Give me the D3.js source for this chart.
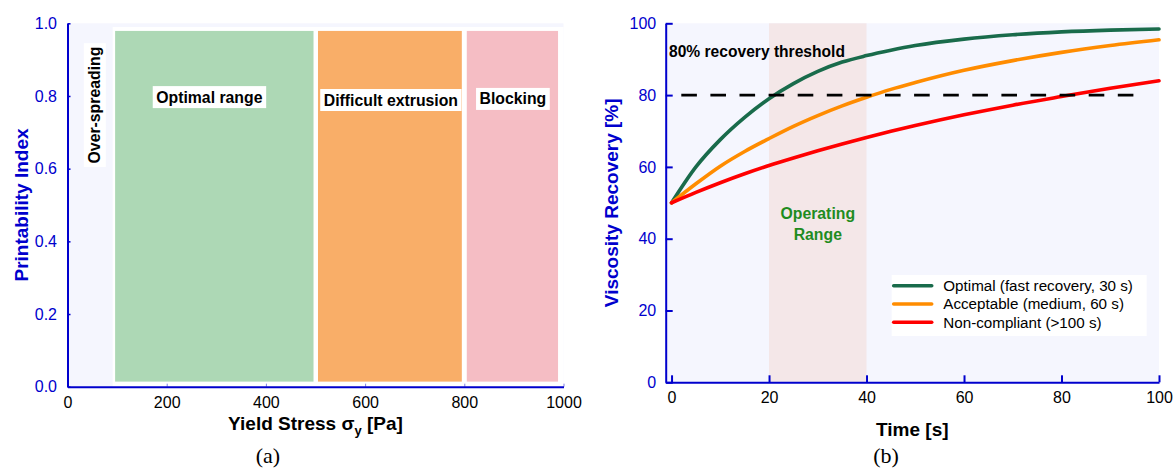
<!DOCTYPE html>
<html>
<head>
<meta charset="utf-8">
<script src="https://cdn.jsdelivr.net/npm/d3@7"></script>
<style>
body { margin: 0; background: #fff; }
text { font-family: "Liberation Sans", Arial, sans-serif; }
</style>
</head>
<body>
<div id="chart"></div>
<script>
// ---- panel (a): printability windows ----
var regionNames = ["Optimal range", "Difficult extrusion", "Blocking"];
var regionStart = [96, 505, 805];
var regionEnd = [496, 795, 989];
var regionTop = 0.979;
var regionBottom = 0.014;
var regionLabelX = [286, 652, 898];
var regionLabelY = [0.797, 0.789, 0.792];
var overLabel = "Over-spreading";
var overLabelX = 55;
var overLabelY = 0.775;
var frameStart = 91;      // white backing panel behind the windows
var frameTop = 0.99;
var stressTicks = [0, 200, 400, 600, 800, 1000];
var indexTicks = [0, 0.2, 0.4, 0.6, 0.8, 1.0];

// ---- panel (b): viscosity recovery ----
var time = [0, 5, 10, 15, 20, 25, 30, 35, 40, 45, 50, 60, 70, 80, 90, 100];
var optimal = [50, 60.0, 67.6, 73.8, 79.0, 83.2, 86.6, 89.2, 91.0, 92.5, 93.8, 95.6, 96.8, 97.6, 98.1, 98.4];
var acceptable = [50, 55.3, 60.2, 64.3, 67.9, 71.3, 74.3, 77.0, 79.4, 81.6, 83.5, 86.9, 89.6, 91.9, 93.8, 95.4];
var nonCompliant = [50, 52.9, 55.6, 58.1, 60.4, 62.5, 64.5, 66.4, 68.2, 69.9, 71.5, 74.5, 77.2, 79.6, 81.9, 84.0];
var seriesNames = ["Optimal (fast recovery, 30 s)", "Acceptable (medium, 60 s)", "Non-compliant (>100 s)"];
var threshold = 80;
var thresholdStart = 2;
var thresholdEnd = 95;
var thresholdLabel = "80% recovery threshold";
var operatingRange = [20, 40];
var timeTicks = [0, 20, 40, 60, 80, 100];
var recoveryTicks = [0, 20, 40, 60, 80, 100];

var blue = "#0000cd";
var lavender = "#f5f6fe";
var regionColors = ["#add8b5", "#f9ae68", "#f5bdc4"];
var lineColors = ["#196b4b", "#ff8c00", "#ff0000"];

var svg = d3.select("#chart").append("svg")
    .attr("width", 1173)
    .attr("height", 468);

// draws white box behind a text node
function boxBehind(g, textSel, padX, padY) {
    var b = textSel.node().getBBox();
    g.insert("rect", "text")
        .attr("x", b.x - padX).attr("y", b.y - padY)
        .attr("width", b.width + 2 * padX).attr("height", b.height + 2 * padY)
        .attr("fill", "#fff");
}

function styleAxis(g, labelColor) {
    g.select(".domain").attr("stroke", blue).attr("stroke-width", 2);
    g.selectAll(".tick line").attr("stroke", blue).attr("stroke-width", 1.5);
    g.selectAll(".tick text").attr("fill", labelColor).attr("font-size", 16)
        .attr("font-family", "Liberation Sans, Arial, sans-serif");
}

// ================= Panel (a) =================
var xa = d3.scaleLinear().domain([0, 1000]).range([67.5, 563.5]);
var ya = d3.scaleLinear().domain([0, 1]).range([386.7, 23.3]);
var ga = svg.append("g");

ga.append("rect")
    .attr("x", xa(0)).attr("y", ya(1))
    .attr("width", xa(1000) - xa(0)).attr("height", ya(0) - ya(1))
    .attr("fill", lavender);

ga.append("rect")
    .attr("x", xa(frameStart)).attr("y", ya(frameTop))
    .attr("width", xa(1000) - xa(frameStart)).attr("height", ya(0) - ya(frameTop))
    .attr("fill", "#fff");

ga.selectAll(".region")
    .data(regionNames)
    .enter().append("rect")
    .attr("class", "region")
    .attr("x", function (d, i) { return xa(regionStart[i]); })
    .attr("width", function (d, i) { return xa(regionEnd[i]) - xa(regionStart[i]); })
    .attr("y", ya(regionTop))
    .attr("height", ya(regionBottom) - ya(regionTop))
    .attr("fill", function (d, i) { return regionColors[i]; });

// axes
var xAxisA = ga.append("g")
    .attr("transform", "translate(0," + ya(0) + ")")
    .call(d3.axisBottom(xa).tickValues(stressTicks).tickFormat(d3.format("d"))
        .tickSizeInner(-3).tickSizeOuter(0).tickPadding(9.5));
styleAxis(xAxisA, "#000");
xAxisA.selectAll(".tick line").attr("stroke-width", 1).attr("stroke-opacity", 0.5);

var yAxisA = ga.append("g")
    .attr("transform", "translate(" + xa(0) + ",0)")
    .call(d3.axisLeft(ya).tickValues(indexTicks).tickFormat(d3.format(".1f"))
        .tickSizeInner(-3).tickSizeOuter(0).tickPadding(10.5));
styleAxis(yAxisA, blue);

// region labels
regionNames.forEach(function (name, i) {
    var lg = ga.append("g");
    var t = lg.append("text")
        .attr("x", xa(regionLabelX[i]))
        .attr("y", ya(regionLabelY[i]))
        .attr("dy", "0.35em")
        .attr("text-anchor", "middle")
        .attr("font-size", 15.8)
        .attr("font-weight", "bold")
        .text(name);
    boxBehind(lg, t, 3.5, 2.5);
});

var og = ga.append("g")
    .attr("transform", "translate(" + xa(overLabelX) + "," + ya(overLabelY) + ") rotate(-90)");
var ot = og.append("text")
    .attr("dy", "0.35em")
    .attr("text-anchor", "middle")
    .attr("font-size", 15.8)
    .attr("font-weight", "bold")
    .text(overLabel);
boxBehind(og, ot, 3.5, 2.5);

// axis titles
ga.append("text")
    .attr("transform", "translate(21," + ((ya(0) + ya(1)) / 2) + ") rotate(-90)")
    .attr("dy", "0.35em")
    .attr("text-anchor", "middle")
    .attr("font-size", 19).attr("font-weight", "bold").attr("fill", blue)
    .text("Printability Index");

var xt = ga.append("text")
    .attr("x", (xa(0) + xa(1000)) / 2).attr("y", 430)
    .attr("text-anchor", "middle")
    .attr("font-size", 19).attr("font-weight", "bold");
xt.append("tspan").text("Yield Stress σ");
xt.append("tspan").attr("dy", 5).attr("font-size", 13).text("y");
xt.append("tspan").attr("dy", -5).text(" [Pa]");

ga.append("text")
    .attr("x", 268).attr("y", 463)
    .attr("text-anchor", "middle")
    .attr("font-size", 22)
    .style("font-family", "'Liberation Serif', 'Times New Roman', serif")
    .text("(a)");

// ================= Panel (b) =================
var xb = d3.scaleLinear().domain([-1.2, 100]).range([665.7, 1159]);
var yb = d3.scaleLinear().domain([0, 100]).range([382.3, 23.3]);
var gb = svg.append("g");

gb.append("rect")
    .attr("x", xb(-1.2)).attr("y", yb(100))
    .attr("width", xb(100) - xb(-1.2)).attr("height", yb(0) - yb(100))
    .attr("fill", lavender);

gb.append("rect")
    .attr("x", xb(operatingRange[0])).attr("y", yb(100))
    .attr("width", xb(operatingRange[1]) - xb(operatingRange[0]))
    .attr("height", yb(0) - yb(100))
    .attr("fill", "#f4e7e8");

var series = [optimal, acceptable, nonCompliant];
var line = d3.line()
    .x(function (d, i) { return xb(time[i]); })
    .y(function (d) { return yb(d); })
    .curve(d3.curveMonotoneX);

gb.selectAll(".curve")
    .data(series)
    .enter().append("path")
    .attr("class", "curve")
    .attr("d", line)
    .attr("fill", "none")
    .attr("stroke", function (d, i) { return lineColors[i]; })
    .attr("stroke-width", 3.6)
    .attr("stroke-linecap", "round")
    .attr("stroke-linejoin", "round");

gb.append("line")
    .attr("x1", xb(thresholdStart)).attr("x2", xb(thresholdEnd))
    .attr("y1", yb(threshold)).attr("y2", yb(threshold))
    .attr("stroke", "#000")
    .attr("stroke-width", 2.8)
    .attr("stroke-dasharray", "15.6,13.5");

gb.append("text")
    .attr("x", 669).attr("y", 56.5)
    .attr("font-size", 15.6).attr("font-weight", "bold")
    .text(thresholdLabel);

var opText = gb.append("text")
    .attr("x", xb((operatingRange[0] + operatingRange[1]) / 2))
    .attr("y", 218.5)
    .attr("text-anchor", "middle")
    .attr("font-size", 15.8).attr("font-weight", "bold")
    .attr("fill", "#1f8c1f");
opText.append("tspan").text("Operating");
opText.append("tspan").attr("x", xb((operatingRange[0] + operatingRange[1]) / 2)).attr("dy", 21).text("Range");

// axes
var xAxisB = gb.append("g")
    .attr("transform", "translate(0," + yb(0) + ")")
    .call(d3.axisBottom(xb).tickValues(timeTicks).tickSizeInner(-7).tickSizeOuter(0).tickPadding(9.5));
styleAxis(xAxisB, "#000");
xAxisB.selectAll(".tick line").attr("stroke-width", 2);

var yAxisB = gb.append("g")
    .attr("transform", "translate(" + xb(-1.2) + ",0)")
    .call(d3.axisLeft(yb).tickValues(recoveryTicks).tickSizeInner(-7).tickSizeOuter(0).tickPadding(9.5));
styleAxis(yAxisB, blue);
yAxisB.selectAll(".tick line").attr("stroke-width", 2);

// legend
var legend = gb.append("g").attr("transform", "translate(891.7,275)");
legend.append("rect")
    .attr("width", 255).attr("height", 61)
    .attr("fill", "#fff");
seriesNames.forEach(function (name, i) {
    var yy = 10.7 + i * 18.3;
    legend.append("line")
        .attr("x1", 2).attr("x2", 40)
        .attr("y1", yy).attr("y2", yy)
        .attr("stroke", lineColors[i])
        .attr("stroke-width", 3.6)
        .attr("stroke-linecap", "round");
    legend.append("text")
        .attr("x", 51.6).attr("y", yy)
        .attr("dy", "0.36em")
        .attr("font-size", 15.2)
        .text(name);
});

// axis titles
gb.append("text")
    .attr("transform", "translate(611," + ((yb(0) + yb(100)) / 2) + ") rotate(-90)")
    .attr("dy", "0.35em")
    .attr("text-anchor", "middle")
    .attr("font-size", 19).attr("font-weight", "bold").attr("fill", blue)
    .text("Viscosity Recovery [%]");

gb.append("text")
    .attr("x", (xb(-1.2) + xb(100)) / 2).attr("y", 436)
    .attr("text-anchor", "middle")
    .attr("font-size", 19).attr("font-weight", "bold")
    .text("Time [s]");

gb.append("text")
    .attr("x", 886).attr("y", 463)
    .attr("text-anchor", "middle")
    .attr("font-size", 22)
    .style("font-family", "'Liberation Serif', 'Times New Roman', serif")
    .text("(b)");
</script>
</body>
</html>
